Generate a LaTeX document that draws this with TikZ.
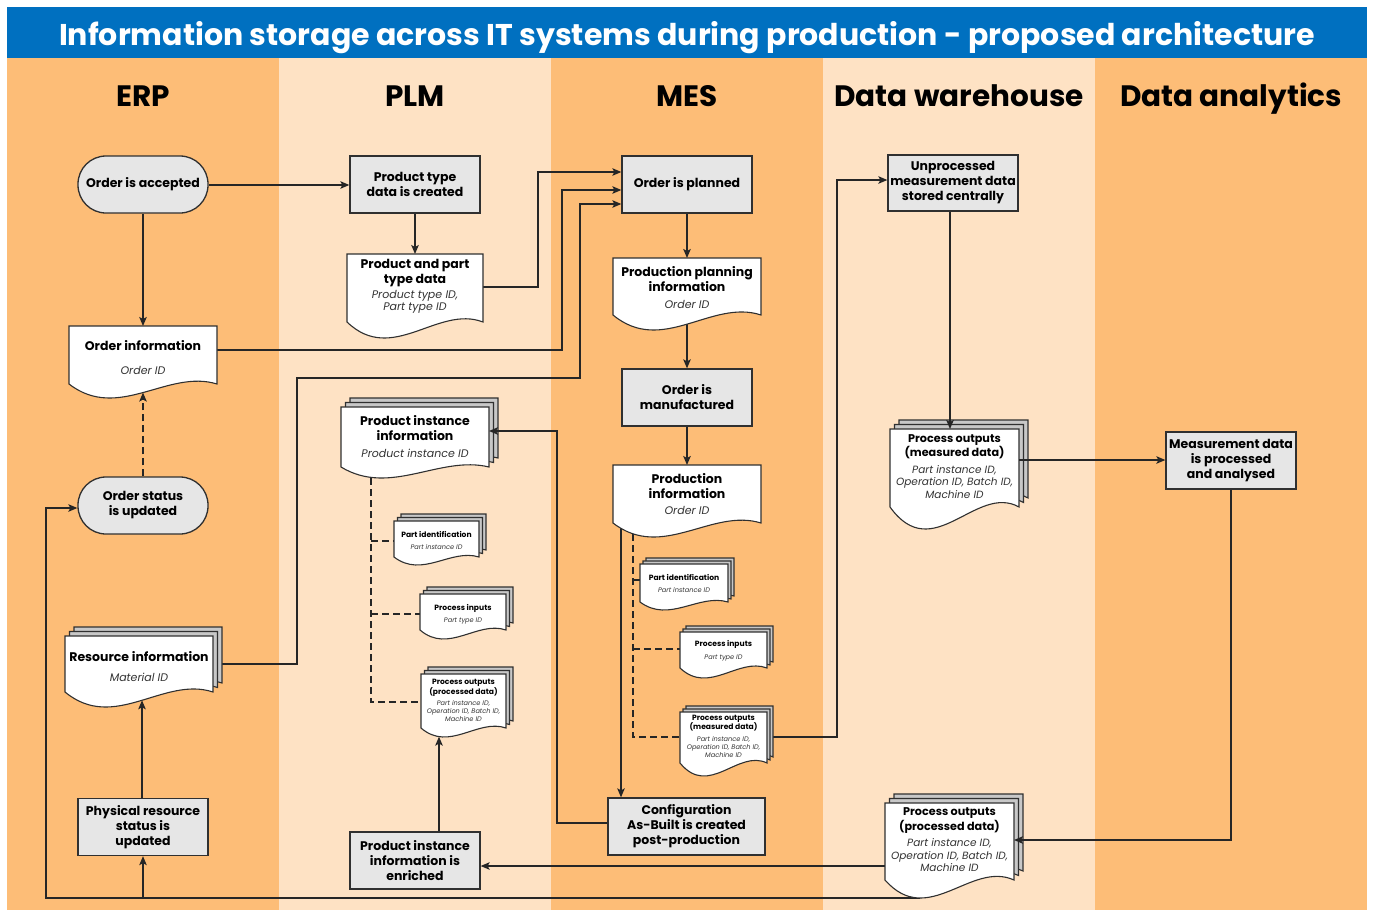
\documentclass[tikz,border=0pt]{standalone}
\usepackage{fontspec}
\setmainfont{Poppins}
\usetikzlibrary{arrows.meta}

\pgfdeclarelayer{lanes}
\pgfdeclarelayer{wires}
\pgfdeclarelayer{over}
\pgfsetlayers{lanes,wires,main,over}

\definecolor{hdrblue}{HTML}{0070C0}
\definecolor{laneA}{HTML}{FDBD77}
\definecolor{laneB}{HTML}{FEE2C4}
\definecolor{boxgray}{HTML}{E6E6E6}
\definecolor{layergray}{HTML}{C8C8C8}
\definecolor{edge}{HTML}{303030}
\definecolor{linec}{HTML}{262626}
\definecolor{idgray}{HTML}{333333}

% text styles
\newcommand\fbig{\fontsize{12.5}{15}\selectfont\bfseries}
\newcommand\ibig{\fontsize{11}{12.5}\selectfont\itshape}
\newcommand\fmid{\fontsize{11.2}{14.5}\selectfont\bfseries}
\newcommand\imid{\fontsize{10.5}{12.5}\selectfont\itshape}
\newcommand\fsmall{\fontsize{7.6}{9.5}\selectfont\bfseries}
\newcommand\ismall{\fontsize{6.6}{8.4}\selectfont\itshape}

% document outline: left, top, right, side bottom, wave depth, fill
\newcommand\docshape[6]{%
  \filldraw[docline, fill=#6] ({#1},{#2}) -- ({#3},{#2}) -- ({#3},{#4})
    .. controls ({(#3)-((#3)-(#1))/3},{(#4)-1.09*(#5)}) and ({(#1)+((#3)-(#1))/3},{(#4)+2.72*(#5)}) .. ({#1},{#4}) -- cycle;}

% remember the wave of a document so points on it can be found later
\newcommand\docstore[5]{%
  \expandafter\xdef\csname wvL:#1\endcsname{#2}%
  \expandafter\xdef\csname wvR:#1\endcsname{#3}%
  \expandafter\xdef\csname wvB:#1\endcsname{#4}%
  \expandafter\xdef\csname wvD:#1\endcsname{#5}}

% coordinate on the wavy bottom edge of a document at a given x
\newcommand\docat[3]{%
  \edef\wvL{\csname wvL:#2\endcsname}%
  \edef\wvR{\csname wvR:#2\endcsname}%
  \edef\wvB{\csname wvB:#2\endcsname}%
  \edef\wvD{\csname wvD:#2\endcsname}%
  \pgfmathsetmacro\wvT{((#3)-\wvL)/(\wvR-\wvL)}%
  \pgfmathsetmacro\wvY{\wvB+3*\wvT*(1-\wvT)*((1-\wvT)*2.72-\wvT*1.09)*\wvD}%
  \coordinate (#1) at ({#3},\wvY);}

% single document: name, left, top, right, side bottom, wave depth
\newcommand\flowdoc[6]{%
  \docshape{#2}{#3}{#4}{#5}{#6}{white}
  \node[docarea, minimum width={(#4)-(#2)}, minimum height={(#5)-(#3)}] (#1) at ({((#2)+(#4))/2},{((#3)+(#5))/2}) {};
  \docstore{#1}{#2}{#4}{#5}{#6}
  \coordinate (#1-dip) at ({(#2)+0.274*((#4)-(#2))},{(#5)+(#6)});
  \docat{#1-s}{#1}{((#2)+(#4))/2}}

% stacked documents: as above plus the layer offset
\newcommand\flowdocs[7]{%
  \docshape{(#2)+2*(#7)}{(#3)-2*(#7)}{(#4)+2*(#7)}{(#5)-2*(#7)}{#6}{layergray}
  \docshape{(#2)+(#7)}{(#3)-(#7)}{(#4)+(#7)}{(#5)-(#7)}{#6}{layergray}
  \flowdoc{#1}{#2}{#3}{#4}{#5}{#6}
  \node[docarea, minimum width={(#4)-(#2)}, minimum height={(#5)-(#3)}] (#1-b) at ({((#2)+(#4))/2+2*(#7)},{((#3)+(#5))/2-2*(#7)}) {};}

\tikzset{
  procbox/.style={draw=edge, fill=boxgray, line width=1.3pt, minimum width=130pt,
    minimum height=57pt, inner sep=0pt, align=center, font=\fbig, text=black},
  termbox/.style={procbox, rounded corners=28pt},
  docarea/.style={inner sep=0pt, outer sep=0pt, draw=none, rectangle},
  docline/.style={draw=edge, line width=1.1pt},
  wire/.style={draw=linec, line width=1.4pt},
  conn/.style={wire, -{Stealth[length=9pt,width=7.5pt,inset=2pt]}},
  dwire/.style={wire, dash pattern=on 7pt off 4pt},
  dconn/.style={dwire, -{Stealth[length=9pt,width=7.5pt,inset=2pt]}},
  txt/.style={inner sep=0pt, align=center, text=black},
  itxt/.style={inner sep=0pt, align=center, text=idgray},
  lanehead/.style={inner sep=0pt, anchor=base, font=\fontsize{29.5}{33}\selectfont\bfseries, text=black},
}

\begin{document}
\begin{tikzpicture}[x=1pt, y=-1pt]
\useasboundingbox (0,0) rectangle (1373,910);

% ---------- background: title band and swim lanes ----------
\begin{pgfonlayer}{lanes}
  \fill[white] (0,0) rectangle (1373,910);
  \fill[hdrblue] (7,7) rectangle (1367,58);
  \fill[laneA] (7,58)   rectangle (279,910);
  \fill[laneB] (279,58) rectangle (551,910);
  \fill[laneA] (551,58) rectangle (823,910);
  \fill[laneB] (823,58) rectangle (1095,910);
  \fill[laneA] (1095,58) rectangle (1367,910);
\end{pgfonlayer}

\node[inner sep=0pt, anchor=base, text=white, font=\fontsize{30}{34}\selectfont\bfseries] (title) at (687,45)
  {Information storage across IT systems during production - proposed architecture};

\node[lanehead] (hERP) at (143,106) {ERP};
\node[lanehead] (hPLM) at (415,106) {PLM};
\node[lanehead] (hMES) at (687,106) {MES};
\node[lanehead] (hDW)  at (959,106) {Data warehouse};
\node[lanehead] (hDA)  at (1231,106) {Data analytics};

% ---------- ERP ----------
\node[termbox] (acc) at (143,184.5) {Order is accepted};
\flowdoc{oinf}{69}{326}{217}{384}{14}
\node[txt, font=\fbig] (oinfT) at (143,346) {Order information};
\node[itxt, font=\ibig] (oinfI) at (143,370) {Order ID};
\node[termbox] (ost) at (143,505.5) {Order status\\is updated};
\flowdocs{resi}{65}{636}{213}{692}{15}{4.5}
\node[txt, font=\fbig] (resiT) at (139,657) {Resource information};
\node[itxt, font=\ibig] (resiI) at (139,677) {Material ID};
\node[procbox] (phys) at (143,827) {Physical resource\\status is\\updated};

% ---------- PLM ----------
\node[procbox] (ptc) at (415,184.5) {Product type\\data is created};
\flowdoc{ppt}{347}{254}{483}{322}{16}
\node[txt, font=\fbig] (pptT) at (415,273.5) {Product and part\\type data};
\node[itxt, font=\ibig] (pptI) at (415,302) {Product type ID,\\Part type ID};
\flowdocs{pii}{341}{407}{489}{467}{11}{4.5}
\node[txt, font=\fbig] (piiT) at (415,428.5) {Product instance\\information};
\node[itxt, font=\ibig] (piiI) at (415,453) {Product instance ID};
\flowdocs{pid}{394}{521}{479}{557}{8}{3.5}
\node[txt, font=\fsmall] (pidT) at (436.5,534) {Part identification};
\node[itxt, font=\ismall] (pidI) at (436.5,547) {Part instance ID};
\flowdocs{pin}{420}{594}{506}{630}{9}{3.5}
\node[txt, font=\fsmall] (pinT) at (463,608) {Process inputs};
\node[itxt, font=\ismall] (pinI) at (463,621) {Part type ID};
\flowdocs{ppo}{421}{674}{506}{728}{9}{3.5}
\node[txt, font=\fsmall] (ppoT) at (463.5,688) {Process outputs\\(processed data)};
\node[itxt, font=\ismall] (ppoI) at (463.5,711) {Part instance ID,\\Operation ID, Batch ID,\\Machine ID};
\node[procbox] (pie) at (415,860.5) {Product instance\\information is\\enriched};

% ---------- MES ----------
\node[procbox] (opl) at (687,184.5) {Order is planned};
\flowdoc{ppl}{613}{258}{761}{315}{15}
\node[txt, font=\fbig] (pplT) at (687,279) {Production planning\\information};
\node[itxt, font=\ibig] (pplI) at (687,304) {Order ID};
\node[procbox] (oman) at (687,397.5) {Order is\\manufactured};
\flowdoc{pinf}{613}{465}{761}{523}{14}
\node[txt, font=\fbig] (pinfT) at (687,486.5) {Production\\information};
\node[itxt, font=\ibig] (pinfI) at (687,510) {Order ID};
\flowdocs{mid}{640}{564}{728}{602}{8}{3}
\node[txt, font=\fsmall] (midT) at (684,577) {Part identification};
\node[itxt, font=\ismall] (midI) at (684,590.5) {Part instance ID};
\flowdocs{min}{680}{632}{767}{668}{10}{3}
\node[txt, font=\fsmall] (minT) at (723.5,644.5) {Process inputs};
\node[itxt, font=\ismall] (minI) at (723.5,658) {Part type ID};
\flowdocs{mpo}{680}{712}{767}{763}{13}{3}
\node[txt, font=\fsmall] (mpoT) at (723.5,723) {Process outputs\\(measured data)};
\node[itxt, font=\ismall] (mpoI) at (723.5,747) {Part instance ID,\\Operation ID, Batch ID,\\Machine ID};
\node[procbox, minimum width=157pt] (cfg) at (686.5,826.5) {Configuration\\As-Built is created\\post-production};

% ---------- Data warehouse ----------
\node[procbox, minimum height=56pt] (unp) at (953,183) {Unprocessed\\measurement data\\stored centrally};
\flowdocs{dwm}{890}{429}{1019}{507}{22}{4.5}
\node[txt, font=\fmid] (dwmT) at (954.5,446.5) {Process outputs\\(measured data)};
\node[itxt, font=\imid] (dwmI) at (954.5,482) {Part instance ID,\\Operation ID, Batch ID,\\Machine ID};
\flowdocs{dwp}{885}{803}{1014}{880}{18}{4.5}
\node[txt, font=\fmid] (dwpT) at (949.5,820.5) {Process outputs\\(processed data)};
\node[itxt, font=\imid] (dwpI) at (949.5,855.5) {Part instance ID,\\Operation ID, Batch ID,\\Machine ID};

% ---------- Data analytics ----------
\node[procbox] (mda) at (1231,460.5) {Measurement data\\is processed\\and analysed};

% ---------- connectors (drawn beneath the shapes) ----------
\docat{resi-in}{resi}{142}
\docat{ppo-in}{ppo}{439}
\begin{pgfonlayer}{wires}
  \draw[conn] (acc.east |- 0,185) -- (ptc.west |- 0,185);
  \draw[conn] (acc) -- (oinf);
  \draw[conn] (ptc) -- (ppt);
  \draw[conn] (ppt.east |- 0,287) -| (538,172) -- (opl.west |- 0,172);
  \draw[conn] (oinf.east |- 0,350) -| (562,190) -- (opl.west |- 0,190);
  \draw[conn] (resi-b.east |- 0,664) -| (297,378) -| (580,204) -- (opl.west |- 0,204);
  \draw[dconn] (ost) -- (oinf-s);
  \draw[conn] (opl) -- (ppl);
  \draw[conn] (ppl-s) -- (oman);
  \draw[conn] (oman) -- (pinf);
  \draw[conn] (pinf.south -| 621,0) -- (cfg.north -| 621,0);
  \draw[conn] (mpo-b.east |- 0,737) -| (837,180) -- (unp.west |- 0,180);
  \draw[conn] (dwp.west |- 0,866) -- (pie.east |- 0,866);
  \draw[conn] (pie.north -| ppo-in) -- (ppo-in);
  \draw[conn] (dwp-dip) -| (46,508) -- (ost.west |- 0,508);
  \draw[conn] (phys.south |- dwp-dip) -- (phys.south);
  \draw[conn] (phys.north -| resi-in) -- (resi-in);
  % dashed containment links
  \draw[dwire] (pii.south -| 371,0) |- (ppo.west |- 0,702);
  \draw[dwire] (371,541) -- (pid.west |- 0,541);
  \draw[dwire] (371,614) -- (pin.west |- 0,614);
  \draw[dwire] (pinf.south -| 633,0) |- (mpo.west |- 0,737);
  \draw[dwire] (633,580) -- (mid.west |- 0,580);
  \draw[dwire] (633,649) -- (min.west |- 0,649);
\end{pgfonlayer}

% ---------- connectors that run over stacked layers ----------
\begin{pgfonlayer}{over}
  \draw[conn] (cfg.west |- 0,823) -| (557,431) -- (pii.east |- 0,431);
  \draw[conn] (unp.south -| 950,0) -- (dwm.north -| 950,0);
  \draw[conn] (dwm.east |- 0,460) -- (mda.west |- 0,460);
  \draw[conn] (mda.south) |- (dwp.east |- 0,840);
\end{pgfonlayer}
\end{tikzpicture}
\end{document}
